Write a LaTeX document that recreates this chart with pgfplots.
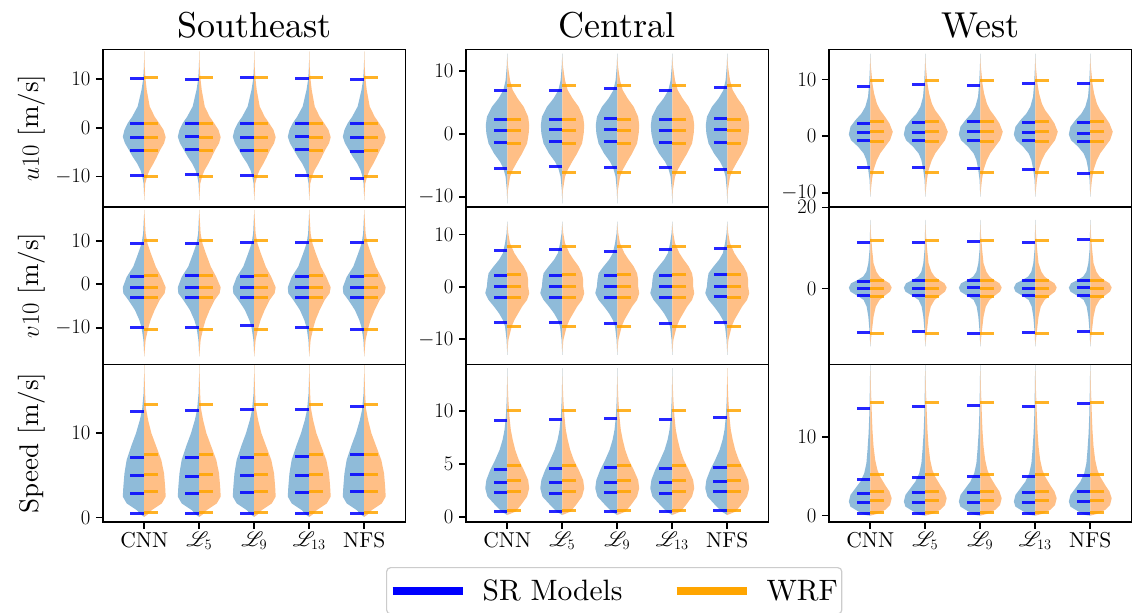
\documentclass[border=0pt]{standalone}
\usepackage{fontspec}
\setmainfont{lmroman10-regular.otf}[ItalicFont=lmroman10-italic.otf, BoldFont=lmroman10-bold.otf]
\usepackage{pgfplots}
\pgfplotsset{compat=1.18}
\usepackage{pgfplotstable}
\usepackage{mathrsfs}
\definecolor{vblue}{RGB}{143,187,217}
\definecolor{vorange}{RGB}{255,191,134}
\definecolor{qorange}{RGB}{255,165,0}
\definecolor{qblue}{RGB}{0,0,255}

% ---------- Southeast ----------
\pgfplotstableread{
y w
15.7 0
12.6 0.006
10.1 0.018
7.8 0.05
4.4 0.12
2.3 0.22
1.0 0.30
-0.4 0.36
-1.8 0.39
-3.15 0.35
-4.5 0.28
-5.9 0.21
-7.25 0.13
-8.6 0.07
-9.65 0.04
-11.4 0.012
-14.8 0
}\SEuB
\pgfplotstableread{
y w
15.7 0
12.6 0.008
10.1 0.022
7.8 0.045
4.4 0.10
2.3 0.19
1.0 0.27
-0.4 0.35
-1.9 0.39
-3.15 0.36
-4.5 0.29
-5.9 0.23
-7.25 0.17
-8.6 0.10
-9.65 0.06
-11.4 0.018
-14.8 0
}\SEuO
\pgfplotstableread{
m b1 b2 b3 b4 b5 o1 o2 o3 o4 o5
0 10.06 0.89 -1.92 -4.59 -9.72 10.40 0.89 -1.98 -4.72 -9.92
1 9.92 0.89 -1.85 -4.52 -9.58 10.40 0.89 -1.98 -4.72 -9.92
2 10.27 0.89 -1.92 -4.59 -9.72 10.40 0.89 -1.98 -4.72 -9.92
3 10.20 0.96 -1.78 -4.45 -9.72 10.40 0.89 -1.98 -4.72 -9.92
4 9.99 0.89 -1.92 -4.79 -10.27 10.40 0.89 -1.98 -4.72 -9.92
}\SEuQ
\pgfplotstableread{
y w
17.1 0
11.7 0.02
9.34 0.05
7.12 0.11
4.05 0.20
1.68 0.32
-0.70 0.39
-2.08 0.38
-3.61 0.29
-5.91 0.17
-8.21 0.09
-9.89 0.05
-12.8 0.015
-16.6 0
}\SEvB
\pgfplotstableread{
y w
17.1 0
11.7 0.025
9.34 0.06
7.12 0.12
4.05 0.21
1.68 0.31
-0.70 0.39
-2.08 0.37
-3.61 0.28
-5.91 0.19
-8.21 0.115
-10.2 0.07
-12.8 0.025
-16.6 0
}\SEvO
\pgfplotstableread{
m b1 b2 b3 b4 b5 o1 o2 o3 o4 o5
0 9.34 1.68 -0.70 -3.00 -9.89 10.10 2.06 -0.70 -3.15 -10.50
1 9.49 1.91 -0.70 -3.00 -9.89 10.10 2.06 -0.70 -3.15 -10.50
2 9.72 1.83 -0.70 -3.00 -9.59 10.10 2.06 -0.70 -3.15 -10.50
3 9.72 1.83 -0.85 -3.07 -9.89 10.10 2.06 -0.70 -3.15 -10.50
4 9.72 1.83 -0.70 -3.15 -10.35 10.10 2.06 -0.70 -3.15 -10.50
}\SEvQ
\pgfplotstableread{
y w
18.1 0
16.74 0.004
14.76 0.012
12.77 0.04
11.58 0.08
10.0 0.15
8.41 0.24
6.82 0.32
5.23 0.36
3.65 0.38
2.46 0.39
1.66 0.32
0.87 0.14
0.27 0.05
0.05 0
}\SEsB
\pgfplotstableread{
y w
18.1 0
16.74 0.006
14.76 0.016
13.0 0.03
11.58 0.07
10.0 0.13
8.41 0.22
6.82 0.31
5.23 0.36
3.65 0.38
2.46 0.39
1.66 0.32
0.87 0.14
0.27 0.05
0.05 0
}\SEsO
\pgfplotstableread{
m b1 b2 b3 b4 b5 o1 o2 o3 o4 o5
0 12.60 7.14 4.92 2.89 0.51 13.45 7.42 5.12 3.05 0.59
1 12.69 7.10 4.88 2.89 0.51 13.45 7.42 5.12 3.05 0.59
2 12.81 7.14 4.96 2.93 0.47 13.45 7.42 5.12 3.05 0.59
3 12.85 7.22 4.92 2.97 0.47 13.45 7.42 5.12 3.05 0.59
4 13.17 7.46 5.12 3.05 0.47 13.45 7.42 5.12 3.05 0.59
}\SEsQ

% ---------- Central ----------
\pgfplotstableread{
y w
12.76 0
10.64 0.01
8.52 0.03
6.94 0.07
5.61 0.16
4.29 0.28
2.70 0.37
1.38 0.39
0.06 0.38
-1.53 0.34
-3.12 0.24
-4.44 0.13
-5.50 0.07
-6.82 0.03
-8.94 0.008
-11.05 0
}\CEuB
\pgfplotstableread{
y w
12.76 0
10.64 0.015
8.52 0.05
6.94 0.10
5.61 0.19
4.29 0.30
2.70 0.38
1.38 0.40
0.06 0.39
-1.53 0.36
-3.12 0.27
-4.44 0.18
-5.70 0.10
-6.82 0.05
-8.94 0.012
-11.05 0
}\CEuO
\pgfplotstableread{
m b1 b2 b3 b4 b5 o1 o2 o3 o4 o5
0 6.83 2.28 0.59 -1.37 -5.50 7.62 2.33 0.59 -1.48 -6.08
1 6.94 2.28 0.64 -1.16 -5.23 7.62 2.33 0.59 -1.48 -6.08
2 7.20 2.39 0.64 -1.26 -5.39 7.62 2.33 0.59 -1.48 -6.08
3 6.88 2.28 0.59 -1.37 -5.39 7.62 2.33 0.59 -1.48 -6.08
4 7.31 2.39 0.64 -1.32 -5.66 7.62 2.33 0.59 -1.48 -6.08
}\CEuQ
\pgfplotstableread{
y w
12.5 0
10.28 0.012
8.37 0.04
6.45 0.08
5.17 0.15
3.90 0.25
2.62 0.34
1.34 0.36
0.06 0.37
-1.21 0.40
-2.49 0.34
-3.77 0.24
-5.04 0.15
-6.32 0.08
-7.60 0.04
-10.15 0.012
-13.0 0
}\CEvB
\pgfplotstableread{
y w
12.5 0
10.28 0.018
8.37 0.05
6.45 0.13
5.17 0.21
3.90 0.30
2.62 0.36
1.34 0.38
0.06 0.38
-1.21 0.40
-2.49 0.36
-3.77 0.27
-5.04 0.20
-6.32 0.13
-7.60 0.08
-8.88 0.05
-10.15 0.02
-13.0 0
}\CEvO
\pgfplotstableread{
m b1 b2 b3 b4 b5 o1 o2 o3 o4 o5
0 6.90 2.24 0.00 -1.98 -6.83 7.73 2.30 0.00 -2.11 -7.60
1 7.22 2.24 0.00 -1.98 -6.83 7.73 2.30 0.00 -2.11 -7.60
2 6.83 2.17 0.00 -2.04 -7.09 7.73 2.30 0.00 -2.11 -7.60
3 7.09 2.24 0.00 -1.98 -6.96 7.73 2.30 0.00 -2.11 -7.60
4 7.34 2.36 0.13 -1.85 -6.77 7.73 2.30 0.00 -2.11 -7.60
}\CEvQ
\pgfplotstableread{
y w
14.04 0
12.62 0.004
11.04 0.01
9.46 0.025
8.20 0.05
7.26 0.085
6.31 0.14
5.36 0.22
4.42 0.31
3.47 0.38
2.68 0.40
1.90 0.36
1.11 0.22
0.48 0.10
0.16 0
}\CEsB
\pgfplotstableread{
y w
14.04 0
12.62 0.008
11.04 0.02
9.46 0.04
8.20 0.065
7.26 0.10
6.31 0.145
5.36 0.21
4.42 0.30
3.47 0.38
2.68 0.40
1.90 0.36
1.11 0.25
0.48 0.15
0.16 0
}\CEsO
\pgfplotstableread{
m b1 b2 b3 b4 b5 o1 o2 o3 o4 o5
0 9.09 4.48 3.22 2.27 0.51 10.00 4.80 3.41 2.40 0.57
1 9.18 4.58 3.25 2.24 0.48 10.00 4.80 3.41 2.40 0.57
2 9.24 4.61 3.28 2.27 0.48 10.00 4.80 3.41 2.40 0.57
3 9.15 4.55 3.25 2.21 0.45 10.00 4.80 3.41 2.40 0.57
4 9.37 4.64 3.35 2.34 0.60 10.00 4.80 3.41 2.40 0.57
}\CEsQ

% ---------- West ----------
\pgfplotstableread{
y w
14.58 0
12.23 0.006
9.29 0.02
6.94 0.04
5.17 0.09
4.00 0.16
2.82 0.27
1.65 0.36
0.29 0.39
-0.71 0.35
-1.88 0.22
-3.06 0.12
-4.23 0.07
-5.70 0.04
-7.76 0.012
-10.7 0
}\WEuB
\pgfplotstableread{
y w
14.58 0
12.23 0.012
9.29 0.04
7.53 0.07
5.76 0.12
4.59 0.18
3.41 0.27
2.23 0.35
0.76 0.41
-0.71 0.36
-1.88 0.27
-3.06 0.18
-4.23 0.12
-6.00 0.06
-7.76 0.03
-10.7 0
}\WEuO
\pgfplotstableread{
m b1 b2 b3 b4 b5 o1 o2 o3 o4 o5
0 8.76 2.29 0.65 -0.76 -5.59 9.76 2.59 0.76 -0.94 -6.41
1 9.11 2.41 0.71 -0.71 -5.53 9.76 2.59 0.76 -0.94 -6.41
2 8.99 2.53 0.76 -0.71 -5.76 9.76 2.59 0.76 -0.94 -6.41
3 9.23 2.47 0.71 -0.76 -5.82 9.76 2.59 0.76 -0.94 -6.41
4 9.23 2.35 0.53 -1.00 -6.53 9.76 2.59 0.76 -0.94 -6.41
}\WEuQ
\pgfplotstableread{
y w
16.88 0
13.6 0.005
9.51 0.013
6.23 0.035
4.18 0.07
2.96 0.13
2.14 0.23
1.32 0.35
0.25 0.39
-0.73 0.36
-1.96 0.21
-2.78 0.12
-4.42 0.065
-6.87 0.035
-10.97 0.01
-14.2 0
}\WEvB
\pgfplotstableread{
y w
16.88 0
13.6 0.012
9.51 0.035
6.23 0.06
4.18 0.11
2.96 0.17
2.14 0.25
1.32 0.35
0.25 0.39
-0.73 0.36
-1.96 0.24
-2.78 0.17
-4.42 0.10
-6.87 0.06
-10.97 0.025
-14.2 0
}\WEvO
\pgfplotstableread{
m b1 b2 b3 b4 b5 o1 o2 o3 o4 o5
0 11.31 1.73 0.09 -1.63 -10.72 11.88 1.97 0.09 -1.88 -10.97
1 11.47 1.89 0.09 -1.71 -10.64 11.88 1.97 0.09 -1.88 -10.97
2 11.64 1.97 0.17 -1.63 -11.13 11.88 1.97 0.09 -1.88 -10.97
3 11.47 1.89 0.09 -1.63 -10.72 11.88 1.97 0.09 -1.88 -10.97
4 12.05 2.06 0.17 -1.71 -10.47 11.88 1.97 0.09 -1.88 -10.97
}\WEvQ
\pgfplotstableread{
y w
19.22 0
18.16 0.004
16.03 0.008
13.06 0.016
10.51 0.03
8.38 0.05
6.68 0.07
5.40 0.11
4.34 0.18
3.49 0.27
2.64 0.36
1.79 0.39
1.15 0.36
0.51 0.21
0.09 0.09
0.0 0
}\WEsB
\pgfplotstableread{
y w
19.22 0
18.16 0.006
16.03 0.013
13.06 0.028
10.93 0.04
8.81 0.06
7.10 0.09
5.83 0.13
4.98 0.18
3.92 0.27
3.07 0.35
2.22 0.39
1.36 0.36
0.73 0.27
0.22 0.12
0.0 0
}\WEsO
\pgfplotstableread{
m b1 b2 b3 b4 b5 o1 o2 o3 o4 o5
0 13.69 4.64 2.77 1.62 0.26 14.46 5.23 3.11 1.96 0.34
1 13.86 4.89 2.90 1.71 0.26 14.46 5.23 3.11 1.96 0.34
2 14.03 5.02 2.94 1.71 0.26 14.46 5.23 3.11 1.96 0.34
3 13.95 5.02 2.94 1.71 0.26 14.46 5.23 3.11 1.96 0.34
4 14.29 5.11 3.02 1.79 0.26 14.46 5.23 3.11 1.96 0.34
}\WEsQ

\newcommand{\violins}[3]{%
  \pgfplotsinvokeforeach{0,...,4}{
    \addplot[draw=none, fill=vblue] table[x expr={##1-\thisrow{w}}, y=y]{#1};
    \addplot[draw=none, fill=vorange] table[x expr={##1+\thisrow{w}}, y=y]{#2};
  }
  \pgfplotsinvokeforeach{1,...,5}{
    \addplot[only marks, mark=-, mark size=6.875pt, mark options={line width=3pt, draw=qblue, draw opacity=0.85}] table[x expr={\thisrow{m}-0.125}, y=b##1]{#3};
    \addplot[only marks, mark=-, mark size=6.875pt, mark options={line width=3pt, draw=qorange, draw opacity=0.85}] table[x expr={\thisrow{m}+0.125}, y=o##1]{#3};
  }
}

\newcommand{\ylab}[1]{\fontsize{27}{32}\selectfont #1}
\newcommand{\ttl}[1]{\fontsize{36}{43}\selectfont #1}

\pgfplotsset{
  vio/.style={
    scale only axis, width=302.5pt, height=157.4pt, anchor=north west,
    xmin=-0.75, xmax=4.75, xtick=\empty,
    axis line style={line width=1.6pt},
    every tick/.style={line width=1.6pt, black},
    major tick length=7pt, tick align=outside,
    ytick pos=left, xtick pos=bottom,
    tick label style={font=\fontsize{21.5}{25}\selectfont},
    yticklabel style={xshift=-2pt},
    every axis y label/.style={at={(axis description cs:-0.2347,0.5)}, rotate=90, anchor=center},
    every axis title/.style={at={(axis description cs:0.5,1)}, anchor=base, yshift=12pt},
  },
  bottomrow/.style={xtick={0,1,2,3,4}, xticklabels={CNN,$\mathscr{L}_5$,$\mathscr{L}_9$,$\mathscr{L}_{13}$,NFS}},
}

\begin{document}
\begin{tikzpicture}
% Column 1: Southeast
\begin{axis}[vio, at={(103pt,-49.5pt)}, ymin=-16.2, ymax=16.1, ytick distance=10, ylabel={\ylab{$u10$ [m/s]}}, title={\ttl{Southeast}}]
\violins{\SEuB}{\SEuO}{\SEuQ}
\end{axis}
\begin{axis}[vio, at={(103pt,-206.9pt)}, ymin=-18.4, ymax=17.8, ytick distance=10, ylabel={\ylab{$v10$ [m/s]}}]
\violins{\SEvB}{\SEvO}{\SEvQ}
\end{axis}
\begin{axis}[vio, bottomrow, at={(103pt,-364.3pt)}, ymin=-0.52, ymax=18.2, ytick distance=10, ylabel={\ylab{Speed [m/s]}}]
\violins{\SEsB}{\SEsO}{\SEsQ}
\end{axis}
% Column 2: Central
\begin{axis}[vio, at={(466pt,-49.5pt)}, ymin=-11.6, ymax=13.4, ytick distance=10, title={\ttl{Central}}]
\violins{\CEuB}{\CEuO}{\CEuQ}
\end{axis}
\begin{axis}[vio, at={(466pt,-206.9pt)}, ymin=-14.8, ymax=15.3, ytick distance=10]
\violins{\CEvB}{\CEvO}{\CEvQ}
\end{axis}
\begin{axis}[vio, bottomrow, at={(466pt,-364.3pt)}, ymin=-0.47, ymax=14.4, ytick distance=5,
  legend columns=2,
  legend image code/.code={\draw[#1] (0pt,0pt) -- (70pt,0pt);},
  legend style={at={(axis description cs:0.49,-0.288)}, anchor=north, draw=black!20, rounded corners=4pt, line width=1.2pt, font=\fontsize{29.5}{35}\selectfont, inner xsep=2pt, inner ysep=10pt, /tikz/every odd column/.append style={column sep=14pt}, /tikz/every even column/.append style={column sep=48pt}}]
\addlegendimage{qblue, line width=8pt}
\addlegendentry{SR Models}
\addlegendimage{qorange, line width=8pt}
\addlegendentry{WRF}
\violins{\CEsB}{\CEsO}{\CEsQ}
\end{axis}
% Column 3: West
\begin{axis}[vio, at={(829pt,-49.5pt)}, ymin=-12.5, ymax=15.3, ytick distance=10, title={\ttl{West}}]
\violins{\WEuB}{\WEuO}{\WEuQ}
\end{axis}
\begin{axis}[vio, at={(829pt,-206.9pt)}, ymin=-18.6, ymax=20.1, ytick distance=20]
\violins{\WEvB}{\WEvO}{\WEvQ}
\end{axis}
\begin{axis}[vio, bottomrow, at={(829pt,-364.3pt)}, ymin=-0.77, ymax=19.3, ytick distance=10]
\violins{\WEsB}{\WEsO}{\WEsQ}
\end{axis}
\pgfresetboundingbox
\useasboundingbox (0pt,0pt) rectangle (1136pt,-613pt);
\end{tikzpicture}
\end{document}
